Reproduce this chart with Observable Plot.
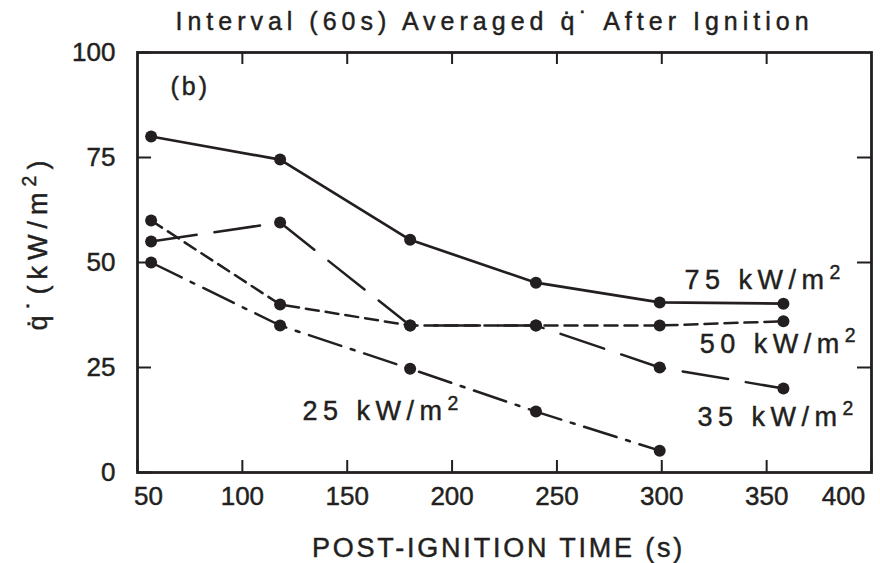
<!DOCTYPE html>
<html><head><meta charset="utf-8">
<script src="https://cdn.jsdelivr.net/npm/d3@7"></script>
<script src="https://cdn.jsdelivr.net/npm/@observablehq/plot@0.6"></script>
<style>
html,body{margin:0;padding:0;background:#fff;}
#chart svg{display:block;}
</style>
</head><body><div id="chart"></div>
<script>
// ---- data ----
const times = [56.5, 118, 180, 240, 299, 358];
const q75 = [80, 74.5, 55.4, 45.2, 40.5, 40.2];
const q50 = [60, 40, 35, 35, 35, 36];
const q35 = [55, 59.5, 35, 35, 25, 20];
const q25 = [50, 35, 24.7, 14.5, 5.2];
const seriesNames = ["75 kW/m²", "50 kW/m²", "35 kW/m²", "25 kW/m²"];
const xTicks = [50, 100, 150, 200, 250, 300, 350, 400];
const yTicks = [0, 25, 50, 75, 100];
const titleText = "Interval (60s) Averaged q̇˙ After Ignition";
const xLabel = "POST-IGNITION TIME (s)";
const yLabel = "q̇˙(kW/m²)";
const panelLabel = "(b)";

// annotation placement (data coordinates)
const labelX = [387.8, 395.0, 394.0, 128.7];
const labelY = [45.7, 30.5, 13.1, 14.5];
const labelAnchor = ["end", "end", "end", "start"];

const ink = "#231f20";
const dashes = [null, "13,7", "46,18", "34,10,4,10"];
const allValues = [q75, q50, q35, q25];

const rows = allValues.flatMap((vals, s) =>
  vals.map((v, i) => ({series: seriesNames[s], t: times[i], q: v})));
const labels = seriesNames.map((name, i) => ({text: name, x: labelX[i], y: labelY[i], anchor: labelAnchor[i]}));

const lineMarks = seriesNames.map((name, s) =>
  Plot.line(rows.filter(d => d.series === name), {
    x: "t", y: "q", stroke: ink, strokeWidth: s === 0 ? 2.7 : 2.5,
    strokeDasharray: dashes[s] || undefined
  }));

const chart = Plot.plot({
  width: 880,
  height: 563,
  marginLeft: 137,
  marginRight: 9,
  marginTop: 52,
  marginBottom: 91,
  style: {fontFamily: "'Liberation Sans', Arial, sans-serif", fontSize: "26px", color: ink, background: "#fff"},
  x: {domain: [50, 400]},
  y: {domain: [0, 100]},
  marks: [
    Plot.frame({stroke: ink, strokeWidth: 2.8}),
    // inward ticks
    Plot.axisX(xTicks, {anchor: "bottom", tickSize: -12, strokeWidth: 2, tickFormat: () => "", label: null}),
    Plot.axisX(xTicks.slice(1, -1), {anchor: "top", tickSize: -11, strokeWidth: 2, tickFormat: () => "", label: null}),
    Plot.axisY(yTicks, {anchor: "left", tickSize: -14, strokeWidth: 2, tickFormat: () => "", label: null}),
    Plot.axisY(yTicks.slice(1, -1), {anchor: "right", tickSize: -15, strokeWidth: 2, tickFormat: () => "", label: null}),
    // tick labels
    Plot.axisX(xTicks.slice(1, -1), {anchor: "bottom", tickSize: 0, tickPadding: 14, label: null, fontSize: 26}),
    Plot.axisX([xTicks[0]], {anchor: "bottom", tickSize: 0, tickPadding: 14, dx: 11, label: null, fontSize: 26}),
    Plot.axisX([xTicks[xTicks.length - 1]], {anchor: "bottom", tickSize: 0, tickPadding: 14, dx: -28, label: null, fontSize: 26}),
    Plot.axisY(yTicks, {anchor: "left", tickSize: 0, tickPadding: 22, label: null, fontSize: 26}),
    // series
    ...lineMarks,
    Plot.dot(rows, {x: "t", y: "q", r: 6, fill: ink, stroke: "none"}),
    // labels
    Plot.text(labels.filter(d => d.anchor === "end"), {x: "x", y: "y", text: "text", textAnchor: "end", fontSize: 27, fill: ink}),
    Plot.text(labels.filter(d => d.anchor === "start"), {x: "x", y: "y", text: "text", textAnchor: "start", fontSize: 27, fill: ink}),
    Plot.text([panelLabel], {x: 65.7, y: 91.9, textAnchor: "start", fontSize: 25, fill: ink}),
    Plot.text([titleText], {frameAnchor: "top", lineAnchor: "middle", textAnchor: "middle", dy: -31, dx: -10, fontSize: 25, fill: ink}),
    Plot.text([xLabel], {frameAnchor: "bottom", lineAnchor: "middle", textAnchor: "middle", dy: 76, dx: -6, fontSize: 27, fill: ink}),
    Plot.text([yLabel], {frameAnchor: "left", lineAnchor: "middle", textAnchor: "middle", rotate: -90, dx: -99.5, dy: -20, fontSize: 27, fill: ink})
  ]
});

document.getElementById("chart").append(chart);

// letter spacing and slightly heavier strokes to match the scanned lettering
const spacing = new Map([[titleText, 5], [xLabel, 2.8], [yLabel, 6], [panelLabel, 3], ...seriesNames.map(n => [n, 5.5])]);
d3.select(chart).selectAll("text").each(function () {
  const t = this;
  if (t.children.length) return;
  const s = t.textContent;
  t.setAttribute("stroke", ink);
  t.setAttribute("stroke-width", "0.45");
  if (spacing.has(s)) t.style.letterSpacing = spacing.get(s) + "px";
  const i = s.indexOf("²");
  if (i < 0) return;
  t.textContent = s.slice(0, i);
  const sup = document.createElementNS("http://www.w3.org/2000/svg", "tspan");
  sup.setAttribute("dy", "-0.55em");
  sup.setAttribute("font-size", "72%");
  sup.textContent = "2";
  t.appendChild(sup);
  const rest = s.slice(i + 1);
  if (rest) {
    const r = document.createElementNS("http://www.w3.org/2000/svg", "tspan");
    r.setAttribute("dy", "0.396em");
    r.textContent = rest;
    t.appendChild(r);
  }
});
</script>
</body></html>
